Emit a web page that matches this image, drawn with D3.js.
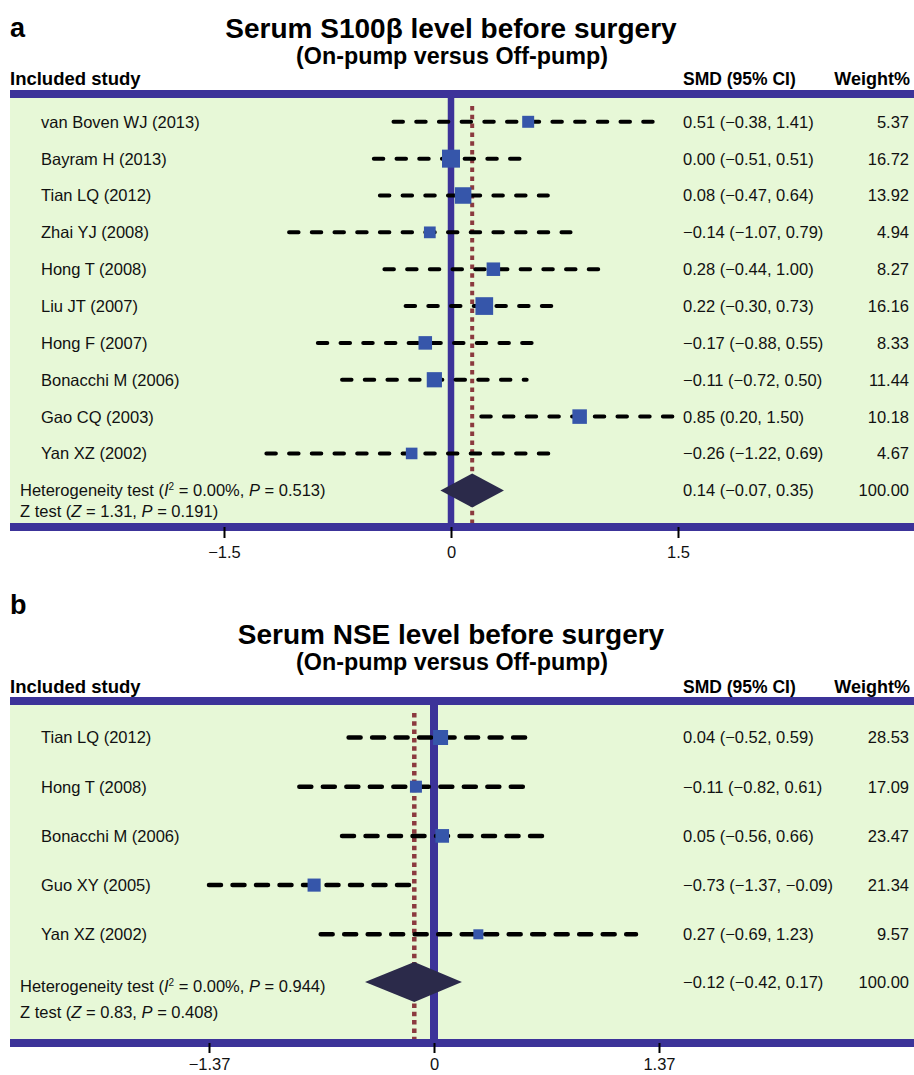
<!DOCTYPE html>
<html>
<head>
<meta charset="utf-8">
<script src="https://cdn.jsdelivr.net/npm/d3@7/dist/d3.min.js"></script>
<style>
  html, body { margin: 0; padding: 0; background: #ffffff; }
  svg { display: block; font-family: "Liberation Sans", Arial, Helvetica, sans-serif; }
</style>
</head>
<body>
<svg id="chart" width="914" height="1075"></svg>
<script>
// ---- Panel a: Serum S100β ----
const studiesA = ["van Boven WJ (2013)", "Bayram H (2013)", "Tian LQ (2012)", "Zhai YJ (2008)",
  "Hong T (2008)", "Liu JT (2007)", "Hong F (2007)", "Bonacchi M (2006)", "Gao CQ (2003)", "Yan XZ (2002)"];
const smdA = [0.51, 0.00, 0.08, -0.14, 0.28, 0.22, -0.17, -0.11, 0.85, -0.26];
const lowA = [-0.38, -0.51, -0.47, -1.07, -0.44, -0.30, -0.88, -0.72, 0.20, -1.22];
const highA = [1.41, 0.51, 0.64, 0.79, 1.00, 0.73, 0.55, 0.50, 1.50, 0.69];
const weightA = [5.37, 16.72, 13.92, 4.94, 8.27, 16.16, 8.33, 11.44, 10.18, 4.67];
const pooledA = [0.14, -0.07, 0.35];
const hetA = ["0.00%", "0.513"];
const ztestA = ["1.31", "0.191"];
const ticksA = [-1.5, 0, 1.5];

// ---- Panel b: Serum NSE ----
const studiesB = ["Tian LQ (2012)", "Hong T (2008)", "Bonacchi M (2006)", "Guo XY (2005)", "Yan XZ  (2002)"];
const smdB = [0.04, -0.11, 0.05, -0.73, 0.27];
const lowB = [-0.52, -0.82, -0.56, -1.37, -0.69];
const highB = [0.59, 0.61, 0.66, -0.09, 1.23];
const weightB = [28.53, 17.09, 23.47, 21.34, 9.57];
const pooledB = [-0.12, -0.42, 0.17];
const hetB = ["0.00%", "0.944"];
const ztestB = ["0.83", "0.408"];
const ticksB = [-1.37, 0, 1.37];

const COLORS = {
  band: "#3c3399",
  panel: "#e7f8d7",
  square: "#3656aa",
  diamond: "#2b2a4a",
  pooledLine: "#8b3a3f",
  ci: "#000000"
};
const FONT = 16.5;

const svg = d3.select("#chart");
const fmt2 = d => (d < 0 ? "\u2212" : "") + Math.abs(d).toFixed(2);

function drawPanel(p) {
  const g = svg.append("g");
  const x = d3.scaleLinear().domain([p.ticks[0], p.ticks[2]]).range(p.xRange);
  const rows = p.studies.map((s, i) => ({
    name: s, smd: p.smd[i], lo: p.low[i], hi: p.high[i], w: p.weight[i]
  }));
  const y = i => p.rowTop + i * p.rowStep;
  const size = d3.scaleLinear().domain(d3.extent(p.weight)).range(p.sizeRange);

  // Headings
  g.append("text").attr("x", 10).attr("y", p.letterY)
    .attr("font-size", 27).attr("font-weight", "bold").text(p.letter);
  g.append("text").attr("x", 451).attr("y", p.titleY).attr("text-anchor", "middle")
    .attr("font-size", 28).attr("font-weight", "bold").text(p.title);
  g.append("text").attr("x", 452).attr("y", p.titleY + 26).attr("text-anchor", "middle")
    .attr("font-size", 23.3).attr("font-weight", "bold").text(p.subtitle);
  g.append("text").attr("x", 10).attr("y", p.headY)
    .attr("font-size", 18.5).attr("font-weight", "bold").text("Included study");
  g.append("text").attr("x", 683).attr("y", p.headY)
    .attr("font-size", 17.5).attr("font-weight", "bold").text("SMD (95% CI)");
  g.append("text").attr("x", 910).attr("y", p.headY).attr("text-anchor", "end")
    .attr("font-size", 18).attr("font-weight", "bold").text("Weight%");

  // Green plotting panel
  g.append("rect").attr("x", 10).attr("y", p.bandTop).attr("width", 904)
    .attr("height", p.bandBottom - p.bandTop).attr("fill", COLORS.panel);

  // Null line and pooled-estimate line
  g.append("line").attr("x1", x(0)).attr("x2", x(0))
    .attr("y1", p.bandTop).attr("y2", p.bandBottom)
    .attr("stroke", COLORS.band).attr("stroke-width", p.nullWidth);
  g.append("line").attr("x1", x(p.pooled[0])).attr("x2", x(p.pooled[0]))
    .attr("y1", p.bandTop + 8).attr("y2", p.bandBottom)
    .attr("stroke", COLORS.pooledLine).attr("stroke-width", p.dotWidth)
    .attr("stroke-dasharray", p.dotDash);

  // Confidence intervals
  g.selectAll(".ci").data(rows).join("line")
    .attr("x1", d => x(d.lo)).attr("x2", d => x(d.hi))
    .attr("y1", (d, i) => y(i)).attr("y2", (d, i) => y(i))
    .attr("stroke", COLORS.ci).attr("stroke-width", p.ciWidth)
    .attr("stroke-linecap", "round").attr("stroke-dasharray", p.ciDash);

  // Weighted point estimates
  g.selectAll(".sq").data(rows).join("rect")
    .attr("x", d => x(d.smd) - size(d.w) / 2)
    .attr("y", (d, i) => y(i) - size(d.w) / 2)
    .attr("width", d => size(d.w)).attr("height", d => size(d.w))
    .attr("fill", COLORS.square);

  // Pooled diamond
  const dy = p.diamondY, dh = p.diamondHalf;
  g.append("path")
    .attr("d", `M${x(p.pooled[1])},${dy} L${x(p.pooled[0])},${dy - dh} L${x(p.pooled[2])},${dy} L${x(p.pooled[0])},${dy + dh} Z`)
    .attr("fill", COLORS.diamond);

  // Row labels
  const txt = g.append("g").attr("font-size", FONT).attr("fill", "#111");
  txt.selectAll(".nm").data(rows).join("text")
    .attr("x", 41).attr("y", (d, i) => y(i)).attr("dy", "0.36em").text(d => d.name);
  txt.selectAll(".ci-t").data(rows).join("text")
    .attr("x", 683).attr("y", (d, i) => y(i)).attr("dy", "0.36em")
    .text(d => `${fmt2(d.smd)} (${fmt2(d.lo)}, ${fmt2(d.hi)})`);
  txt.selectAll(".wt").data(rows).join("text")
    .attr("x", 909).attr("y", (d, i) => y(i)).attr("dy", "0.36em").attr("text-anchor", "end")
    .text(d => d.w.toFixed(2));

  txt.append("text").attr("x", 683).attr("y", dy).attr("dy", "0.36em")
    .text(`${fmt2(p.pooled[0])} (${fmt2(p.pooled[1])}, ${fmt2(p.pooled[2])})`);
  txt.append("text").attr("x", 909).attr("y", dy).attr("dy", "0.36em").attr("text-anchor", "end")
    .text("100.00");

  const het = txt.append("text").attr("x", 20).attr("y", p.hetY).attr("dy", "0.36em");
  het.append("tspan").text("Heterogeneity test (");
  het.append("tspan").attr("font-style", "italic").text("I");
  het.append("tspan").attr("font-size", 10).attr("dy", "-0.55em").text("2");
  het.append("tspan").attr("dy", "0.35em").text(` = ${p.het[0]}, `);
  het.append("tspan").attr("font-style", "italic").text("P");
  het.append("tspan").text(` = ${p.het[1]})`);

  const zt = txt.append("text").attr("x", 20).attr("y", p.zY).attr("dy", "0.36em");
  zt.append("tspan").text("Z test (");
  zt.append("tspan").attr("font-style", "italic").text("Z");
  zt.append("tspan").text(` = ${p.z[0]}, `);
  zt.append("tspan").attr("font-style", "italic").text("P");
  zt.append("tspan").text(` = ${p.z[1]})`);

  // Top and bottom bands
  g.append("rect").attr("x", 10).attr("y", p.bandTop - 8).attr("width", 904).attr("height", 8)
    .attr("fill", COLORS.band);
  g.append("rect").attr("x", 10).attr("y", p.bandBottom).attr("width", 904).attr("height", 8)
    .attr("fill", COLORS.band);

  // Axis
  const axis = d3.axisBottom(x).tickValues(p.ticks).tickSize(p.tickSize).tickPadding(p.tickPad)
    .tickFormat(d => d === 0 ? "0" : (d < 0 ? "\u2212" : "") + Math.abs(d));
  const ax = g.append("g").attr("transform", `translate(0,${p.bandBottom + 4})`).call(axis);
  ax.select(".domain").remove();
  ax.selectAll(".tick line").attr("stroke", "#000").attr("stroke-width", 2);
  ax.selectAll(".tick text").attr("font-size", FONT).attr("fill", "#111")
    .attr("font-family", "\"Liberation Sans\", Arial, sans-serif");
}

drawPanel({
  letter: "a", title: "Serum S100\u03b2 level before surgery", subtitle: "(On-pump versus Off-pump)",
  letterY: 37, titleY: 38, headY: 85, bandTop: 98, bandBottom: 523,
  studies: studiesA, smd: smdA, low: lowA, high: highA, weight: weightA,
  pooled: pooledA, het: hetA, z: ztestA, ticks: ticksA,
  xRange: [224, 678], rowTop: 121.8, rowStep: 36.85, sizeRange: [11.6, 18],
  diamondY: 490.5, diamondHalf: 17, hetY: 490, zY: 511, tickSize: 11, tickPad: 8,
  nullWidth: 6.5, dotWidth: 4, dotDash: "4.5 4.3", ciWidth: 4, ciDash: "9.5 13.2"
});

drawPanel({
  letter: "b", title: "Serum NSE level before surgery", subtitle: "(On-pump versus Off-pump)",
  letterY: 614, titleY: 644, headY: 693, bandTop: 705, bandBottom: 1039,
  studies: studiesB, smd: smdB, low: lowB, high: highB, weight: weightB,
  pooled: pooledB, het: hetB, z: ztestB, ticks: ticksB,
  xRange: [209, 659], rowTop: 737.5, rowStep: 49.2, sizeRange: [10, 15],
  diamondY: 982, diamondHalf: 20, hetY: 986, zY: 1012, tickSize: 10, tickPad: 5,
  nullWidth: 8, dotWidth: 4.5, dotDash: "4.5 3.8", ciWidth: 4.5, ciDash: "12 11.5"
});
</script>
</body>
</html>
